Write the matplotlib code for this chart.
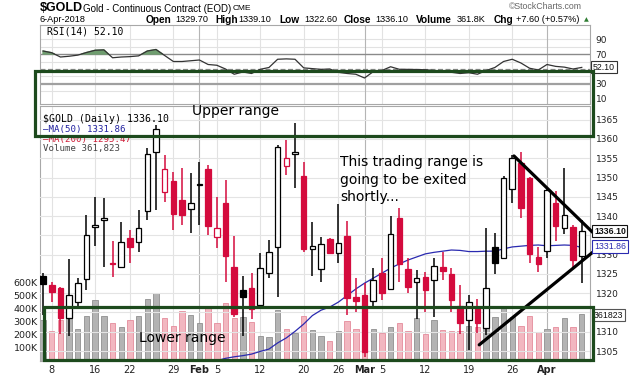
import matplotlib
matplotlib.use('Agg')
import matplotlib.pyplot as plt
import numpy as np
import pandas as pd
from matplotlib.patches import Rectangle

# ---------------- data ----------------
holidays = ['2018-01-15', '2018-02-19', '2018-03-30']
dates = [d for d in pd.bdate_range('2018-01-05', '2018-04-06')
         if d.strftime('%Y-%m-%d') not in holidays]

opens = [1324.5, 1322.1, 1321.4, 1313.5, 1317.6, 1323.7, 1337.2, 1339.0, 1327.8, 1326.9,
         1334.2, 1333.2, 1341.3, 1356.7, 1346.3, 1349.1, 1344.2, 1341.8, 1348.0, 1352.2,
         1334.7, 1343.3, 1326.7, 1320.8, 1321.3, 1316.9, 1325.2, 1332.1, 1353.1, 1356.1,
         1350.4, 1331.5, 1326.3, 1334.1, 1330.4, 1334.9, 1319.1, 1319.5, 1318.1, 1325.2,
         1321.1, 1339.6, 1326.3, 1322.8, 1324.1, 1323.4, 1326.9, 1324.9, 1316.8, 1313.0,
         1316.2, 1310.9, 1332.1, 1329.0, 1347.0, 1353.7, 1349.8, 1329.5, 1330.9, 1343.3,
         1336.8, 1337.2, 1329.7]
highs = [1325.2, 1323.0, 1321.7, 1328.9, 1324.0, 1340.3, 1345.0, 1344.8, 1333.5, 1338.4,
         1336.4, 1341.6, 1357.6, 1363.6, 1355.8, 1351.5, 1352.4, 1351.1, 1354.1, 1353.3,
         1345.0, 1349.4, 1334.9, 1324.5, 1325.2, 1330.4, 1333.8, 1358.4, 1359.7, 1364.1,
         1354.1, 1338.5, 1334.7, 1334.4, 1343.1, 1338.7, 1323.9, 1322.6, 1326.6, 1329.2,
         1340.1, 1342.2, 1329.0, 1326.0, 1325.6, 1329.0, 1330.8, 1326.5, 1322.1, 1319.5,
         1318.4, 1336.8, 1335.5, 1350.4, 1355.8, 1356.7, 1350.2, 1332.1, 1347.2, 1346.5,
         1352.6, 1337.7, 1339.1]
lows = [1314.3, 1317.8, 1309.3, 1309.0, 1316.5, 1320.8, 1332.2, 1326.9, 1324.3, 1326.6,
        1327.8, 1330.8, 1339.0, 1341.6, 1343.7, 1336.4, 1337.7, 1335.5, 1337.7, 1335.1,
        1331.6, 1323.0, 1313.9, 1309.0, 1313.3, 1316.5, 1323.9, 1319.1, 1350.7, 1347.2,
        1330.8, 1324.5, 1323.0, 1330.3, 1327.8, 1314.3, 1315.2, 1303.5, 1316.5, 1318.2,
        1320.8, 1323.0, 1320.0, 1313.3, 1315.2, 1313.9, 1323.4, 1315.2, 1309.3, 1305.3,
        1309.6, 1309.2, 1324.9, 1328.9, 1343.3, 1339.6, 1327.8, 1325.6, 1329.0, 1333.5,
        1335.3, 1326.5, 1322.6]
closes = [1322.3, 1320.4, 1313.6, 1319.5, 1322.7, 1335.1, 1337.6, 1339.4, 1327.5, 1333.2,
          1332.1, 1336.8, 1356.0, 1362.6, 1352.2, 1340.5, 1340.3, 1343.3, 1348.2, 1337.4,
          1336.8, 1329.7, 1314.6, 1318.9, 1315.9, 1326.5, 1330.6, 1358.0, 1355.2, 1356.5,
          1331.4, 1332.3, 1332.7, 1330.5, 1333.1, 1318.7, 1318.1, 1304.8, 1323.4, 1320.0,
          1335.3, 1327.5, 1321.7, 1324.0, 1320.8, 1327.1, 1325.8, 1318.2, 1312.2, 1317.6,
          1312.2, 1321.4, 1327.8, 1349.8, 1355.0, 1342.2, 1330.1, 1327.5, 1346.8, 1337.5,
          1340.3, 1328.6, 1336.1]
volume_k = [315, 230, 315, 367, 244, 349, 467, 349, 290, 259,
            315, 349, 474, 521, 328, 269, 382, 354, 295, 405,
            295, 444, 328, 341, 297, 195, 182, 392, 244, 218,
            349, 236, 195, 154, 231, 308, 244, 290, 246, 213,
            262, 290, 231, 328, 205, 315, 238, 231, 232, 270,
            265, 436, 341, 405, 341, 269, 346, 226, 244, 264,
            328, 259, 362]
ma50 = [np.nan] * 20 + [
    1302.5, 1303.1, 1303.5, 1303.8, 1304.2, 1304.9, 1305.5, 1307.1, 1308.4, 1310.1,
    1312.0, 1314.2, 1315.6, 1316.4, 1317.7, 1319.4, 1321.1, 1322.6, 1323.9, 1325.2,
    1326.5, 1327.6, 1328.6, 1329.4, 1330.2, 1330.6, 1330.9, 1331.2, 1331.1, 1330.8,
    1330.8, 1330.9, 1330.9, 1331.5, 1332.0, 1332.2, 1332.4, 1332.5, 1332.3, 1332.4,
    1332.5, 1332.4, 1331.86]
rsi14 = [74, 71.7, 66, 67, 68.5, 72, 75, 75.5, 65, 66,
         66.5, 67.5, 74, 76, 68, 60, 60, 61, 62, 56,
         55, 50, 43, 46, 44, 49.6, 52, 63, 63.5, 63,
         51.5, 50.5, 49.5, 50, 45.5, 44, 43, 38, 46.4, 48,
         53, 49.6, 49.5, 49.3, 49, 48, 47, 45.6, 44, 45,
         43, 48, 52, 60, 63, 58, 51, 48.7, 56, 53.5,
         52.5, 50, 52.1]

price_ticks = list(range(1305, 1366, 5))
hidden_price_labels = [1315, 1335]   # covered by the value boxes in the original
vol_ticks_k = [100, 200, 300, 400, 500, 600]
rsi_ticks = [10, 30, 70, 90]

# annotation trend lines (x in trading-day index, y in price)
down_x, down_y = [54.2, 63.25], [1355.6, 1335.8]
up_x, up_y = [50.2, 63.25], [1306.6, 1330.6]

# ---------------- figure ----------------
W, H = 630, 375
fig = plt.figure(figsize=(W / 100, H / 100), dpi=100)
fig.patch.set_facecolor('white')


def fx(px):
    return px / W


def fy(py):
    return 1 - py / H


L, R = 40, 590
RED = '#d40b3d'
n = len(closes)
x = np.arange(n)
o, h, l, c = (np.array(a, dtype=float) for a in (opens, highs, lows, closes))
up = np.r_[True, c[1:] > c[:-1]]
hollow = c >= o
xlim = (-0.35, 62.95)

# tick positions: first trading day of each week / month
tick_pos, tick_lab, tick_month = [], [], []
for i in range(1, n):
    d, p = dates[i], dates[i - 1]
    if d.month != p.month:
        tick_pos.append(i); tick_lab.append(d.strftime('%b')); tick_month.append(True)
    elif d.isocalendar()[1] != p.isocalendar()[1]:
        tick_pos.append(i); tick_lab.append(str(d.day)); tick_month.append(False)

# ---------------- RSI panel ----------------
axr = fig.add_axes([fx(L), fy(104), (R - L) / W, (104 - 25) / H])
axr.set_xlim(*xlim)
axr.set_ylim(3.3, 108.7)
for v in [20, 40, 60, 80, 90]:
    axr.axhline(v, color='#e2e2e2', lw=0.8, zorder=0)
for p_, m in zip(tick_pos, tick_month):
    axr.axvline(p_, color='#b5b5b5' if m else '#e2e2e2', lw=0.8, zorder=0)
axr.axhline(70, color='#8a8a8a', lw=1.0, zorder=1)
axr.axhline(30, color='#a0a0a0', lw=1.6, zorder=1)
axr.axhline(50, color='#8a8a8a', lw=0.9, ls=(0, (4, 2)), zorder=1)
rsi = np.array(rsi14)
axr.fill_between(x, rsi, 70, where=rsi > 70, interpolate=True, color='#6f9d6f', zorder=2)
axr.plot(x, rsi, color='#333333', lw=0.9, zorder=3)
axr.set_xticks([])
axr.yaxis.tick_right()
axr.set_yticks(rsi_ticks)
axr.set_yticklabels([str(t) for t in rsi_ticks])
axr.tick_params(axis='y', length=0, pad=4, labelsize=6.5, labelcolor='#222')
for s in axr.spines.values():
    s.set_color('#a8a8a8'); s.set_linewidth(0.8)

# ---------------- price / volume panel ----------------
axv = fig.add_axes([fx(L), fy(361), (R - L) / W, (361 - 106) / H])
axv.set_xlim(*xlim)
axv.set_ylim(0, 1961)
for p_, m in zip(tick_pos, tick_month):
    axv.axvline(p_, color='#b5b5b5' if m else '#e2e2e2', lw=0.8, zorder=0)
vface = np.where(up, '#b3b3b3', '#f2b7c0')
vedge = np.where(up, '#909090', '#e48c9c')
axv.bar(x, volume_k, width=0.62, color=vface, edgecolor=vedge, lw=0.6, zorder=1)
axv.set_yticks(vol_ticks_k)
axv.set_yticklabels([f'{t}K' for t in vol_ticks_k])
axv.tick_params(axis='y', length=0, pad=1.5, labelsize=6.8, labelcolor='#222')
axv.set_xticks(tick_pos)
axv.set_xticklabels(tick_lab)
axv.tick_params(axis='x', length=0, pad=3, labelsize=7, labelcolor='#222')
for lab, m in zip(axv.get_xticklabels(), tick_month):
    if m:
        lab.set_fontweight('bold')
for s in axv.spines.values():
    s.set_color('#a8a8a8'); s.set_linewidth(0.8)

ax = axv.twinx()
ax.set_xlim(*xlim)
ax.set_ylim(1302.41, 1368.56)
for v in price_ticks:
    ax.axhline(v, color='#e4e4e4', lw=0.8, zorder=0)
ax.plot(x, ma50, color='#2a2ab0', lw=0.9, zorder=2)
edge = np.where(up, 'black', RED)
face = np.where(hollow, 'white', edge)
ax.vlines(x, l, h, colors=edge, lw=1.1, zorder=3)
ax.bar(x, np.maximum(np.abs(c - o), 0.22), bottom=np.minimum(o, c), width=0.64,
       color=face, edgecolor=edge, lw=0.9, zorder=4)
ax.set_yticks(price_ticks)
ax.set_yticklabels(['' if t in hidden_price_labels else str(t) for t in price_ticks])
ax.tick_params(axis='y', length=0, pad=4, labelsize=6.5, labelcolor='#222')
for s in ax.spines.values():
    s.set_visible(False)

# trend lines
ax.plot(down_x, down_y, color='black', lw=2.3, clip_on=False, zorder=8, solid_capstyle='round')
ax.plot(up_x, up_y, color='black', lw=2.3, clip_on=False, zorder=8, solid_capstyle='round')

# ---------------- texts ----------------
HF = 'Liberation Sans'
fig.text(fx(40), fy(8), '$GOLD', fontsize=9, fontweight='bold', family=HF, va='center')
fig.text(fx(83), fy(8.5), 'Gold - Continuous Contract (EOD)', fontsize=7, family=HF, va='center')
fig.text(fx(233), fy(9), 'CME', fontsize=6, family=HF, va='center')
fig.text(fx(509), fy(6.5), '\u00a9StockCharts.com', fontsize=6.3, family=HF, va='center', color='#666')
fig.text(fx(40), fy(20), '6-Apr-2018', fontsize=6.6, family=HF, va='center')
hdr = [(146, 'Open', True), (175, '1329.70', False), (215, 'High', True), (238, '1339.10', False),
       (279, 'Low', True), (304, '1322.60', False), (344, 'Close', True), (375, '1336.10', False),
       (416, 'Volume', True), (457, '361.8K', False), (494, 'Chg', True),
       (516, '+7.60 (+0.57%)', False)]
for px, t, b in hdr:
    fig.text(fx(px), fy(20), t, fontsize=7.3 if b else 6.6, family=HF, va='center',
             fontweight='bold' if b else 'normal')
fig.text(fx(584), fy(20), '\u25b2', fontsize=4.5, family='DejaVu Sans', va='center', color='#2e7d32')

MONO = ['DejaVu Sans Mono', 'DejaVu Sans']
fig.text(fx(47), fy(31.5), 'RSI(14) 52.10', fontsize=7, family=MONO, va='center')
fig.text(fx(43), fy(119.5), '$GOLD (Daily) 1336.10', fontsize=7.1, family=MONO, va='center')
fig.text(fx(43), fy(129.5), '\u2014MA(50) 1331.86', fontsize=6.6, family=MONO, va='center', color='#2222a0')
fig.text(fx(43), fy(139.5), '\u2014MA(200) 1295.47', fontsize=6.6, family=MONO, va='center', color='#d0203a')
fig.text(fx(43), fy(148.5), 'Volume 361,823', fontsize=6.6, family=MONO, va='center', color='#444')

# value boxes on the right
def box(px, py, t, ec, tc, bold=False):
    fig.text(fx(px), fy(py), t, fontsize=6.3, family=HF, va='center', ha='left', color=tc,
             fontweight='bold' if bold else 'normal', zorder=12,
             bbox=dict(boxstyle='square,pad=0.18', fc='white', ec=ec, lw=0.8))

box(593, 67, '52.10', '#333', '#111')
box(594, 231, '1336.10', '#111', '#111', bold=True)
box(594, 246.5, '1331.86', '#2a2ab0', '#2a2ab0')
box(594, 315, '361823', '#555', '#111')

# range rectangles and captions
GREEN = '#1d4a1d'
fig.add_artist(Rectangle((fx(35), fy(136)), (592.7 - 35) / W, (136 - 71) / H,
                         transform=fig.transFigure, fill=False, ec=GREEN, lw=2.3, zorder=20))
fig.add_artist(Rectangle((fx(44), fy(360)), (592.7 - 44) / W, (360 - 306.7) / H,
                         transform=fig.transFigure, fill=False, ec=GREEN, lw=2.3, zorder=20))
fig.text(fx(192), fy(111.5), 'Upper range', fontsize=10, family='DejaVu Sans', va='center', zorder=21)
fig.text(fx(139), fy(338), 'Lower range', fontsize=10, family='DejaVu Sans', va='center', zorder=21)
fig.text(fx(340), fy(155), 'This trading range is\ngoing to be exited\nshortly...', fontsize=10,
         family='DejaVu Sans', va='top', ha='left', linespacing=1.32, zorder=21)

fig.savefig('out.png', dpi=100)
